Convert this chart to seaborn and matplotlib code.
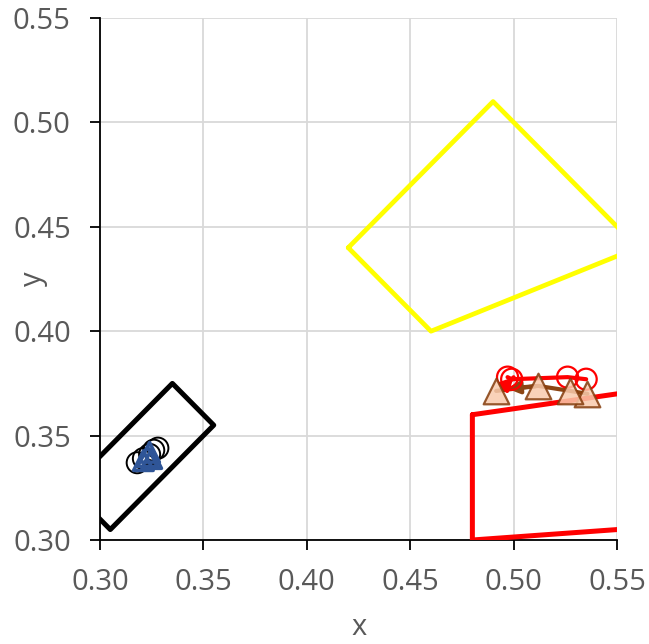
import numpy as np
import pandas as pd
import seaborn as sns
from matplotlib import pyplot as plt

# closed outlines (first point repeated at the end)
black_x = [0.285, 0.335, 0.355, 0.305, 0.285]
black_y = [0.325, 0.375, 0.355, 0.305, 0.325]
yellow_x = [0.42, 0.49, 0.56, 0.46, 0.42]
yellow_y = [0.44, 0.51, 0.44, 0.40, 0.44]
red_x = [0.48, 0.62, 0.62, 0.48, 0.48]
red_y = [0.36, 0.38, 0.31, 0.30, 0.36]

# point series
circ_black_x = [0.318, 0.321, 0.324, 0.326, 0.328]
circ_black_y = [0.337, 0.339, 0.341, 0.343, 0.344]
tri_blue_x = [0.321, 0.323, 0.324, 0.325]
tri_blue_y = [0.338, 0.340, 0.342, 0.339]
circ_red_x = [0.535, 0.526, 0.499, 0.497]
circ_red_y = [0.377, 0.378, 0.377, 0.378]
tri_brown_x = [0.5356, 0.5273, 0.5118, 0.4915]
tri_brown_y = [0.370, 0.3714, 0.3738, 0.3714]

sns.set_theme(style="white")
plt.rcParams['font.family'] = ['Open Sans', 'DejaVu Sans']

fig = plt.figure(figsize=(6.49, 6.44), dpi=100)
ax = fig.add_axes([0.154, 0.1615, 0.797, 0.8105])

outlines = [(black_x, black_y, 'black', 3.6), (yellow_x, yellow_y, '#ffff00', 3.4),
            (red_x, red_y, '#ff0000', 3.6)]
for xs, ys, col, lw in outlines:
    df = pd.DataFrame({'x': xs, 'y': ys})
    sns.lineplot(data=df, x='x', y='y', sort=False, estimator=None, color=col,
                 lw=lw, ax=ax, zorder=3)

# paths through the red circles and brown triangles, ending in an arrow
for xs, ys, col in [(circ_red_x, circ_red_y, '#ff0000'), (tri_brown_x, tri_brown_y, '#8b4513')]:
    df = pd.DataFrame({'x': xs, 'y': ys})
    sns.lineplot(data=df, x='x', y='y', sort=False, estimator=None, color=col,
                 lw=3, ax=ax, zorder=4)
    ax.annotate('', xy=(xs[-1] + 0.004, ys[-1] + 0.001), xytext=(xs[-2], ys[-2]),
                arrowprops=dict(arrowstyle='-|>', color=col, lw=3, mutation_scale=18),
                zorder=5)

sns.scatterplot(x=circ_black_x, y=circ_black_y, marker='o', s=230, facecolor='none',
                edgecolor='black', linewidth=1.4, ax=ax, zorder=6)
sns.scatterplot(x=tri_blue_x, y=tri_blue_y, marker='^', s=200, facecolor='none',
                edgecolor='#2f5597', linewidth=2.5, ax=ax, zorder=7)
sns.scatterplot(x=circ_red_x, y=circ_red_y, marker='o', s=230, facecolor='none',
                edgecolor='#ff0000', linewidth=1.6, ax=ax, zorder=6)
sns.scatterplot(x=tri_brown_x, y=tri_brown_y, marker='^', s=340, color='#f8cbad',
                edgecolor='#843c0c', linewidth=1.6, alpha=0.85, ax=ax, zorder=7)

ax.set_xlim(0.30, 0.55)
ax.set_ylim(0.30, 0.55)
ticks = np.arange(0.30, 0.551, 0.05)
ax.set_xticks(ticks)
ax.set_yticks(ticks)
ax.set_xticklabels([f'{t:.2f}' for t in ticks])
ax.set_yticklabels([f'{t:.2f}' for t in ticks])
ax.grid(True, color='#d9d9d9', lw=1.3, zorder=0)
ax.set_axisbelow(True)
for s in ['top', 'right']:
    ax.spines[s].set_visible(False)
for s in ['left', 'bottom']:
    ax.spines[s].set_color('black')
    ax.spines[s].set_linewidth(1.3)
ax.tick_params(axis='both', which='major', direction='out', length=7, width=1.3,
               color='black', labelsize=21, labelcolor='#595959',
               left=True, bottom=True)
ax.tick_params(axis='x', pad=13)
ax.tick_params(axis='y', pad=14)
ax.set_xlabel('x', fontsize=21, color='#595959')
ax.set_ylabel('y', fontsize=21, color='#595959')
ax.xaxis.set_label_coords(0.5, -0.14)
ax.yaxis.set_label_coords(-0.10, 0.5)

fig.savefig('out.png', dpi=100)
